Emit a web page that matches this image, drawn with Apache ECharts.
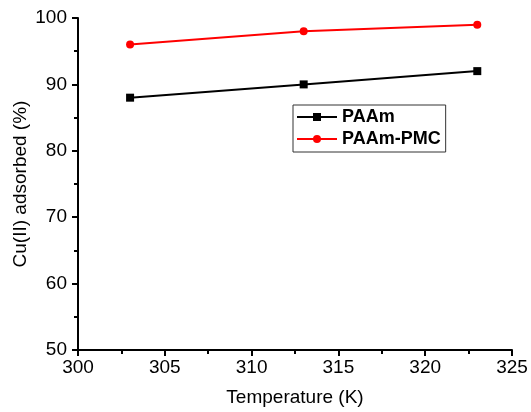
<!DOCTYPE html>
<html>
<head>
<meta charset="utf-8">
<script src="https://cdn.jsdelivr.net/npm/echarts@6/dist/echarts.min.js"></script>
<style>
  html, body { margin: 0; padding: 0; background: #fff; }
  #chart { width: 531px; height: 412px; }
</style>
</head>
<body>
<div id="chart"></div>
<script>
// Temperature (K) and Cu(II) removal (%) for each adsorbent
const temperatures = [303, 313, 323];
const paam = [88, 90, 92];
const paamPmc = [96, 98, 99];

const chart = echarts.init(document.getElementById('chart'), null, { renderer: 'canvas' });
const font = 'Liberation Sans, Arial, sans-serif';

function pairs(xs, ys) { return xs.map((x, i) => [x, ys[i]]); }

const axisCommon = {
  axisLine: { show: true, lineStyle: { color: '#000', width: 2 } },
  axisTick: { show: true, inside: false, length: 6, lineStyle: { color: '#000', width: 2 } },
  minorTick: { show: true, splitNumber: 2, length: 4, lineStyle: { color: '#000', width: 2 } },
  splitLine: { show: false },
  axisLabel: { color: '#000', fontFamily: font, fontSize: 19 },
  nameTextStyle: { color: '#000', fontFamily: font, fontSize: 19 },
  nameMoveOverlap: false
};

chart.setOption({
  backgroundColor: '#fff',
  animation: false,
  grid: {
    left: 78, right: 19, top: 18, bottom: 62,
    containLabel: false, outerBoundsMode: 'none'
  },
  xAxis: Object.assign({}, axisCommon, {
    type: 'value', min: 300, max: 325, interval: 5,
    name: 'Temperature (K)', nameLocation: 'middle', nameGap: 38,
    axisLabel: Object.assign({}, axisCommon.axisLabel, { margin: 8 })
  }),
  yAxis: Object.assign({}, axisCommon, {
    type: 'value', min: 50, max: 100, interval: 10,
    name: 'Cu(II) adsorbed (%)', nameLocation: 'middle', nameGap: 48,
    axisLabel: Object.assign({}, axisCommon.axisLabel, { margin: 11 })
  }),
  legend: {
    orient: 'vertical', left: 293, top: 105,
    width: 154,
    padding: [3, 5, 4, 3], itemGap: 4,
    itemWidth: 40, itemHeight: 10,
    borderColor: '#333', borderWidth: 1,
    textStyle: { color: '#000', fontFamily: font, fontSize: 18, fontWeight: 'bold' },
    data: ['PAAm', 'PAAm-PMC']
  },
  series: [
    {
      name: 'PAAm', type: 'line', data: pairs(temperatures, paam),
      symbol: 'rect', symbolSize: 8,
      lineStyle: { color: '#000', width: 2 }, itemStyle: { color: '#000' }
    },
    {
      name: 'PAAm-PMC', type: 'line', data: pairs(temperatures, paamPmc),
      symbol: 'circle', symbolSize: 8,
      lineStyle: { color: '#ff0000', width: 2 }, itemStyle: { color: '#ff0000' }
    }
  ]
});
</script>
</body>
</html>
